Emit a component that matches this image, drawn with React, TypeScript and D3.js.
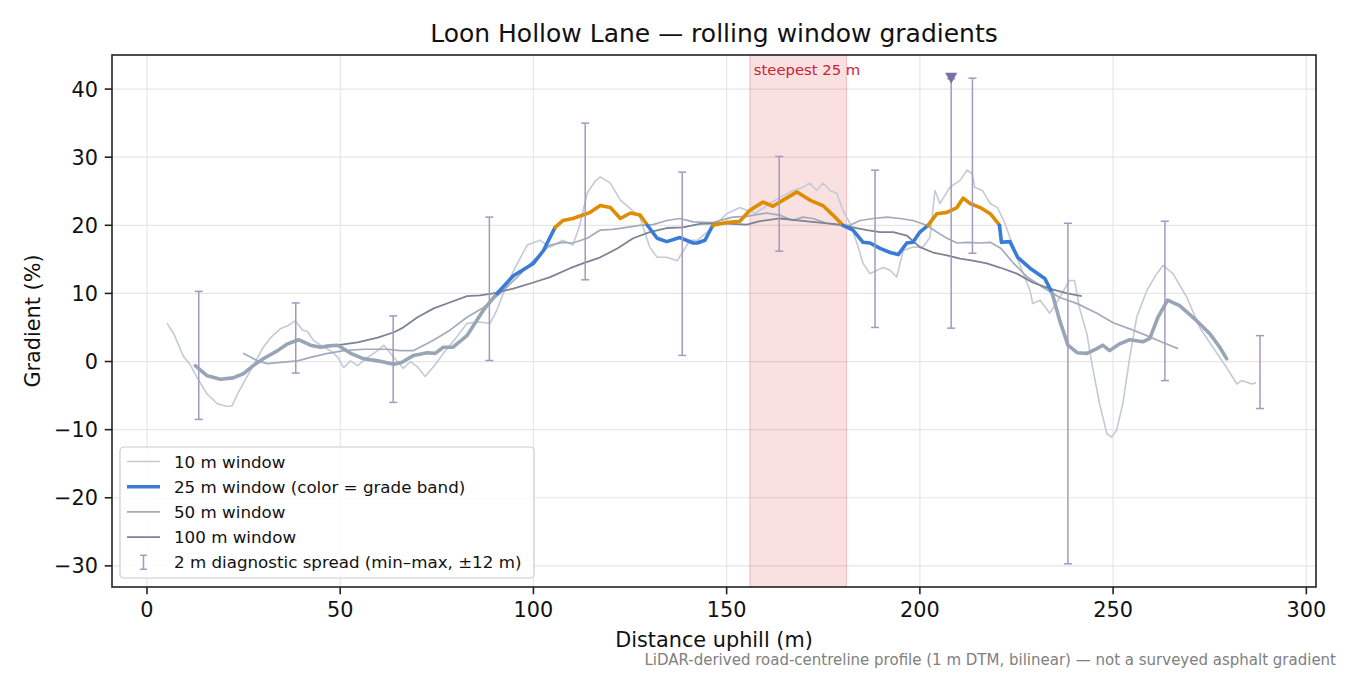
import * as d3 from 'd3'

// rolling-window gradient series: [distance (m), gradient (%)]
const win10: [number, number][] = [
  [5.2, 5.6], [7, 4], [9.4, 0.8], [11.2, -0.5], [13, -2.4], [15.6, -4.8], [18.2, -6.2], [20.8, -6.6],
  [22, -6.5], [23.4, -4.8], [26.8, -1.3], [30.1, 2.1], [32, 3.5], [34.5, 4.8], [36.6, 5.3], [38.4, 6.0],
  [40.3, 4.6], [41.5, 4.4], [43.1, 3.1], [45.7, 2.1], [47.5, 1.6], [49.4, 0.6], [50.9, -0.9], [52.7, 0.1],
  [54.5, -0.6], [57.1, 0.6], [59.7, 1.6], [61.3, 2.4], [63.9, 0.6], [66.3, -1.0], [68.2, 0.0], [70, -0.8],
  [72, -2.2], [74.5, -0.5], [76.7, 1.2], [80, 3.5], [82.8, 5.6], [86, 5.8], [88.8, 5.6], [90.5, 7.5],
  [92.2, 10], [95, 13.5], [98.4, 17.1], [101.7, 17.8], [104.4, 16.8], [107.6, 17.8], [110.2, 17.1],
  [112, 20], [113.9, 24.7], [116, 26.5], [117.3, 27.1], [119.9, 26.2], [122.5, 23.7], [125, 22.5],
  [127.5, 21.2], [130.1, 16.8], [132, 15.3], [134.5, 15.3], [137.2, 14.8], [140.5, 17.8], [142.4, 17.8],
  [146.4, 19.7], [150, 21.7], [153.4, 22.6], [155.2, 22.2], [157.5, 21.8], [161.2, 23.2], [163.8, 24.1],
  [167.2, 25.1], [169.8, 25.6], [171.5, 26.2], [173.3, 25.1], [175, 26.2], [176.7, 25.1], [178.5, 24.7],
  [180.1, 22.2], [181.9, 20.3], [183.7, 17.4], [185.3, 14.4], [187.1, 12.9], [188.9, 13.4], [190.5, 13.8],
  [192.3, 13.4], [194, 12.4], [195.7, 16.3], [198.2, 16.8], [200.8, 16.8], [202.6, 18.2], [203.9, 25.1],
  [205.2, 23.2], [207.8, 25.6], [210.4, 26.6], [212.2, 28.1], [213.5, 27.6], [214.2, 25.6], [216.2, 25.1],
  [218.2, 23.2], [220.1, 22.6], [222, 20.3], [225.1, 15.3], [228.5, 10.4], [229.2, 8.5], [231.1, 9.0],
  [233.6, 7.1], [236.2, 9.4], [238.7, 11.9], [240, 11.9], [241.3, 7.9], [243.2, 4.1], [244.7, -0.9],
  [246.5, -6.2], [248.4, -10.6], [249.6, -11.1], [250.9, -10.1], [252.5, -6.2], [254.3, 0.6], [256.1, 6.5],
  [258.7, 10.4], [261.3, 12.9], [262.9, 14.1], [265.5, 12.9], [269.1, 9.4], [272.4, 5.0], [275.8, 2.1],
  [279.4, -0.9], [282, -3.3], [283.3, -2.8], [285.9, -3.3], [287, -3.1],
]

const win25: [number, number][] = [
  [12.5, -0.6], [15.6, -2.1], [19, -2.6], [22.3, -2.4], [24.9, -1.8], [27.5, -0.6], [30.1, 0.4],
  [33.8, 1.6], [36.4, 2.6], [39.2, 3.2], [42.3, 2.4], [44.9, 2.1], [47, 2.3], [49.4, 2.4], [52.7, 1.2],
  [56.1, 0.4], [59.7, 0.1], [63.9, -0.4], [66, -0.1], [69, 0.9], [72.5, 1.3], [74.6, 1.2], [76.7, 2.1],
  [79.2, 2.1], [82.8, 3.8], [87, 7.5], [90.6, 10], [94.8, 12.6], [100, 14.4], [102.6, 16.3], [105.6, 19.7],
  [107.6, 20.7], [110.2, 21], [112.8, 21.5], [114.7, 21.9], [117.3, 22.9], [119.9, 22.6], [122.5, 21],
  [125.1, 21.8], [127.6, 21.5], [129.5, 20], [132, 18.1], [134.5, 17.6], [137.9, 18.2], [141.3, 17.4],
  [142.4, 17.4], [144.4, 17.8], [146.4, 20], [150, 20.4], [153.4, 20.6], [156, 22.2], [159.4, 23.4],
  [162, 22.8], [164.6, 23.7], [168.2, 24.9], [171.5, 23.7], [174.9, 22.9], [177.5, 21.5], [180.1, 20],
  [182.7, 19.3], [185.3, 17.5], [187.1, 17.4], [189.7, 16.6], [192.3, 16], [194.4, 15.7], [196.6, 17.4],
  [198.2, 17.5], [200, 19], [202.1, 20], [204.4, 21.7], [207, 21.9], [209.6, 22.6], [211.2, 24],
  [213, 23.2], [215.6, 22.6], [218.2, 21.7], [220.1, 20.4], [220.6, 20], [221.1, 17.5], [223.3, 17.6],
  [225.3, 15.3], [228.5, 13.7], [232.3, 12.2], [234.2, 10.1], [236.2, 6], [238.3, 2.4], [240.7, 1.3],
  [243.2, 1.2], [245.8, 1.9], [247.3, 2.4], [249.1, 1.6], [251.7, 2.6], [254.3, 3.2], [257.7, 2.9],
  [259.5, 3.4], [261.6, 6.5], [264.1, 9.0], [267.2, 8.2], [271.6, 6.0], [275, 4.1], [277.6, 2.1],
  [279.4, 0.4],
]

const win50: [number, number][] = [
  [24.9, 1.2], [28.6, 0.1], [31.2, -0.3], [35.3, -0.1], [39, 0.1], [42.3, 0.6], [46.8, 1.2], [50.9, 1.6],
  [56.1, 1.8], [62.3, 1.8], [65.5, 1.6], [68.9, 1.6], [74, 3.1], [78.4, 4.6], [82.8, 6.5], [87, 7.9],
  [91.4, 10], [95.8, 12.4], [100, 14.8], [104.3, 17.1], [107.6, 17.5], [110.2, 17.4], [113.9, 18.1],
  [117.3, 19.3], [120.5, 19.4], [124.2, 19.7], [127.5, 20], [130.9, 20.1], [134.5, 20.7], [137.9, 21],
  [141.3, 20.5], [146.4, 20.4], [151.5, 21.2], [155.1, 21.3], [160.3, 21.8], [163.7, 21.5], [167.1, 20.7],
  [169.7, 21.2], [172.3, 21], [175.9, 20.3], [179.3, 20], [181.9, 20], [184.5, 20.7], [187.9, 21],
  [191.5, 21.2], [194.9, 21], [198.2, 20.7], [201.8, 20], [204.4, 19], [207, 18.1], [209.6, 17.4],
  [212.2, 17.5], [215.6, 17.4], [218.2, 17.5], [221, 16.6], [224.3, 14.4], [227.8, 12.4], [231.8, 10.9],
  [236.2, 9.4], [240.7, 8.5], [245.8, 7.1], [250, 5.7], [254.3, 4.8], [258.7, 3.8], [262.9, 2.8],
  [266.8, 1.9],
]

const win100: [number, number][] = [
  [49.4, 2.4], [54.5, 2.8], [59.7, 3.5], [63.9, 4.3], [66, 4.9], [70, 6.5], [74.2, 7.8], [78.5, 8.7],
  [82.8, 9.6], [86.2, 9.7], [89.6, 10], [94.8, 10.7], [100, 11.6], [104.3, 12.4], [109.5, 13.7],
  [112.8, 14.4], [117.3, 15.3], [121.7, 16.6], [125.8, 18.1], [130.1, 19], [134.5, 19.6], [138.7, 19.7],
  [143.1, 20.2], [148.3, 20.3], [155.2, 20.1], [158.6, 20.6], [163.8, 21], [169, 20.7], [174.1, 20.4],
  [179.3, 20.1], [182.7, 19.7], [186.3, 19.3], [189.7, 19], [193.1, 19], [196.6, 18.5], [200, 16.8],
  [203.4, 16], [207, 15.6], [210.4, 15.1], [213.7, 14.8], [217.3, 14.4], [220.7, 13.8], [225.1, 12.9],
  [229.2, 11.6], [233.6, 10.7], [238.1, 10], [241.9, 9.6],
]

// 2 m diagnostic spread: [distance, min, max]
const spread2m: [number, number, number][] = [
  [13.4, -8.5, 10.3], [38.5, -1.7, 8.6], [63.7, -6.0, 6.7], [88.6, 0.15, 21.2], [113.4, 12, 35],
  [138.5, 0.9, 27.8], [163.6, 16.2, 30.1], [188.4, 5, 28.1], [208.1, 4.9, 41.5], [213.6, 15.9, 41.6],
  [238.3, -29.7, 20.3], [263.4, -2.8, 20.6], [288, -6.9, 3.8],
]
const steepest2m: [number, number] = [208.1, 41.5]
const steepest25: [number, number] = [156, 181]

const xTicks = [0, 50, 100, 150, 200, 250, 300]
const yTicks = [-30, -20, -10, 0, 10, 20, 30, 40]

const legendLabels = [
  '10 m window',
  '25 m window (color = grade band)',
  '50 m window',
  '100 m window',
  '2 m diagnostic spread (min–max, ±12 m)',
]

const W = 1350
const H = 675
const M = { left: 112, right: 1316, top: 55, bottom: 587 }
const FONT = 'DejaVu Sans, sans-serif'

const C10 = '#c3cad6'
const C50 = '#a3abbb'
const C100 = '#7b8493'
const CSPREAD = '#a597c0'
const bandColor = (v: number) => (v >= 20 ? '#e08c00' : v >= 10 ? '#3a7bd8' : '#97a5b5')

// split the 25 m line into runs sharing the same grade-band colour
function bandRuns(pts: [number, number][]) {
  const runs: { color: string; pts: [number, number][] }[] = []
  for (let i = 1; i < pts.length; i++) {
    const col = bandColor((pts[i - 1][1] + pts[i][1]) / 2)
    const last = runs[runs.length - 1]
    if (last && last.color === col) last.pts.push(pts[i])
    else runs.push({ color: col, pts: [pts[i - 1], pts[i]] })
  }
  return runs
}

export default function App() {
  const x = d3.scaleLinear().domain([-9.05, 302.5]).range([M.left, M.right])
  const y = d3.scaleLinear().domain([-33.1, 45]).range([M.bottom, M.top])
  const line = d3
    .line<[number, number]>()
    .x((d) => x(d[0]))
    .y((d) => y(d[1]))
    .curve(d3.curveLinear)

  const runs = bandRuns(win25)
  const cap = 4
  const lg = { x: 120, y: 447, w: 414, h: 131 }
  const rowY = (i: number) => 461.5 + i * 25.2

  return (
    <div style={{ position: 'absolute', left: 0, top: 0 }}>
      <svg width={W} height={H} style={{ display: 'block', background: '#fff' }} fontFamily={FONT}>
        <defs>
          <clipPath id="plot">
            <rect x={M.left} y={M.top} width={M.right - M.left} height={M.bottom - M.top} />
          </clipPath>
        </defs>

        {/* grid */}
        <g stroke="#e6e6e6" strokeWidth={1.2}>
          {xTicks.map((t) => (
            <line key={'gx' + t} x1={x(t)} x2={x(t)} y1={M.top} y2={M.bottom} />
          ))}
          {yTicks.map((t) => (
            <line key={'gy' + t} x1={M.left} x2={M.right} y1={y(t)} y2={y(t)} />
          ))}
        </g>

        <g clipPath="url(#plot)">
          {/* steepest 25 m span */}
          <rect
            x={x(steepest25[0])}
            y={M.top}
            width={x(steepest25[1]) - x(steepest25[0])}
            height={M.bottom - M.top}
            fill="rgba(214,39,40,0.14)"
            stroke="rgba(214,39,40,0.25)"
            strokeWidth={1}
          />

          <path d={line(win10) ?? ''} fill="none" stroke={C10} strokeWidth={1.6} strokeLinejoin="round" />
          <path d={line(win50) ?? ''} fill="none" stroke={C50} strokeWidth={1.7} strokeLinejoin="round" />
          <path d={line(win100) ?? ''} fill="none" stroke={C100} strokeWidth={1.8} strokeLinejoin="round" />
          {runs.map((r, i) => (
            <path
              key={'r' + i}
              d={line(r.pts) ?? ''}
              fill="none"
              stroke={r.color}
              strokeWidth={3.6}
              strokeLinejoin="round"
              strokeLinecap="round"
            />
          ))}

          {/* 2 m spread bars */}
          <g stroke={CSPREAD} strokeWidth={1.5}>
            {spread2m.map(([d, lo, hi]) => (
              <g key={'e' + d}>
                <line x1={x(d)} x2={x(d)} y1={y(lo)} y2={y(hi)} />
                <line x1={x(d) - cap} x2={x(d) + cap} y1={y(lo)} y2={y(lo)} />
                <line x1={x(d) - cap} x2={x(d) + cap} y1={y(hi)} y2={y(hi)} />
              </g>
            ))}
          </g>

          <path
            d={`M${x(steepest2m[0]) - 6},${y(steepest2m[1]) - 6}L${x(steepest2m[0]) + 6},${y(steepest2m[1]) - 6}L${x(steepest2m[0])},${y(steepest2m[1]) + 5}Z`}
            fill="#7d6fa3"
          />
        </g>

        <text x={x(steepest25[0]) + 4} y={M.top + 20} fontSize={14.8} fill="#cc2233">
          steepest 25 m
        </text>

        {/* axes frame and ticks */}
        <rect
          x={M.left}
          y={M.top}
          width={M.right - M.left}
          height={M.bottom - M.top}
          fill="none"
          stroke="#222"
          strokeWidth={1.6}
        />
        <g fontSize={20.8} fill="#111">
          {xTicks.map((t) => (
            <g key={'tx' + t}>
              <line x1={x(t)} x2={x(t)} y1={M.bottom} y2={M.bottom + 7.3} stroke="#222" strokeWidth={1.6} />
              <text x={x(t)} y={M.bottom + 30} textAnchor="middle">
                {t}
              </text>
            </g>
          ))}
          {yTicks.map((t) => (
            <g key={'ty' + t}>
              <line x1={M.left - 7.3} x2={M.left} y1={y(t)} y2={y(t)} stroke="#222" strokeWidth={1.6} />
              <text x={M.left - 14} y={y(t)} dy="0.36em" textAnchor="end">
                {d3.format('')(t).replace('-', '−')}
              </text>
            </g>
          ))}
        </g>

        <text x={(M.left + M.right) / 2} y={42} textAnchor="middle" fontSize={25} fill="#111">
          Loon Hollow Lane — rolling window gradients
        </text>
        <text x={(M.left + M.right) / 2} y={647} textAnchor="middle" fontSize={20.8} fill="#111">
          Distance uphill (m)
        </text>
        <text
          transform={`translate(40,${(M.top + M.bottom) / 2}) rotate(-90)`}
          textAnchor="middle"
          fontSize={20.8}
          fill="#111"
        >
          Gradient (%)
        </text>
        <text x={1336} y={665} textAnchor="end" fontSize={15} fill="#808080">
          LiDAR-derived road-centreline profile (1 m DTM, bilinear) — not a surveyed asphalt gradient
        </text>

        {/* legend */}
        <g>
          <rect x={lg.x} y={lg.y} width={lg.w} height={lg.h} rx={4} fill="rgba(255,255,255,0.85)" stroke="#cccccc" strokeWidth={1.2} />
          <line x1={127} x2={160} y1={rowY(0)} y2={rowY(0)} stroke={C10} strokeWidth={1.6} />
          <line x1={127} x2={160} y1={rowY(1)} y2={rowY(1)} stroke="#3a7bd8" strokeWidth={3.6} />
          <line x1={127} x2={160} y1={rowY(2)} y2={rowY(2)} stroke={C50} strokeWidth={1.7} />
          <line x1={127} x2={160} y1={rowY(3)} y2={rowY(3)} stroke={C100} strokeWidth={1.8} />
          <g stroke={CSPREAD} strokeWidth={1.5}>
            <line x1={143.5} x2={143.5} y1={rowY(4) - 7} y2={rowY(4) + 7} />
            <line x1={140} x2={147} y1={rowY(4) - 7} y2={rowY(4) - 7} />
            <line x1={140} x2={147} y1={rowY(4) + 7} y2={rowY(4) + 7} />
          </g>
          {legendLabels.map((l, i) => (
            <text key={l} x={174} y={rowY(i)} dy="0.36em" fontSize={16.7} fill="#111">
              {l}
            </text>
          ))}
        </g>
      </svg>
    </div>
  )
}
